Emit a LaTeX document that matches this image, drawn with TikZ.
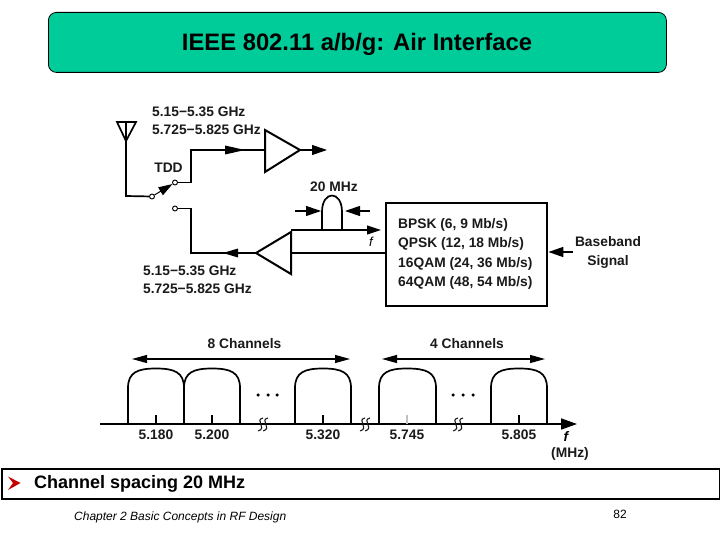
\documentclass[tikz,border=0pt]{standalone}
\usepackage{fontspec}
\setmainfont{Liberation Sans}
\usetikzlibrary{arrows.meta}
\definecolor{titlegreen}{HTML}{00CC99}
\definecolor{dk}{HTML}{1A1A1A}
\begin{document}
\begin{tikzpicture}[x=1pt,y=-1pt,
  wire/.style={draw=black,line width=1.7pt},
  thin wire/.style={draw=black,line width=1.1pt},
  arr/.style={-{Triangle[length=15pt,width=10pt]}},
  amp/.style={draw=black,line width=2pt,fill=white,line join=miter},
  lab/.style={font=\fontsize{13.8}{16}\selectfont\bfseries,text=dk,inner sep=0pt},
  term/.style={circle,draw=black,line width=0.9pt,fill=white,minimum size=5pt,inner sep=0pt},
  tick/.style={draw=black,line width=1.1pt},
  bump/.style={draw=black,line width=1.7pt},
  brk/.style={draw=dk,line width=1.1pt},
  dot/.style={circle,fill=black,minimum size=3.5pt,inner sep=0pt}]
\useasboundingbox (0,0) rectangle (720,540);
\fill[white] (0,0) rectangle (720,540);
% title
\node[draw=black,line width=0.8pt,fill=titlegreen,rounded corners=8pt,minimum width=618pt,minimum height=60pt,inner sep=0pt,anchor=north west] (title) at (48,12) {};
\node[font=\fontsize{23.8}{28}\selectfont\bfseries,inner sep=0pt] (titletext) at (357,44.5) {IEEE 802.11 a/b/g: Air Interface};
% antenna
\coordinate (antL) at (117,122);
\coordinate (antR) at (136,122);
\coordinate (antA) at (126,141);
\coordinate (antT) at (126,122);
\coordinate (antB) at (126,196);
\draw[wire,line join=miter] (antL) -- (antR) -- (antA) -- cycle;
\node[term] (swC) at (152,196.5) {};
\node[term] (swU) at (175,182.5) {};
\node[term] (swD) at (175,208.5) {};
\draw[wire] (antT) -- (antB) -- (swC);
\draw[draw=black,line width=1pt,-{Triangle[length=14pt,width=9pt]}] (swC) -- (swU);
% amplifiers
\node[inner sep=0pt,minimum size=0pt] (amp1in) at (265,150) {};
\node[inner sep=0pt,minimum size=0pt] (amp1out) at (300,150) {};
\node[inner sep=0pt,minimum size=0pt] (amp2out) at (256,253) {};
\node[inner sep=0pt,minimum size=0pt] (amp2in) at (291,253) {};
\coordinate (out1) at (327,150);
\draw[amp] (265,130) -- (300,150) -- (265,172) -- cycle;
\draw[amp] (256,253) -- (291,232) -- (291,274) -- cycle;
\draw[wire] (swU) -- (191,182.5) -- (191,150) -- (amp1in);
\fill[black] (245,150) -- (225,145.5) -- (225,154.5) -- cycle;
\draw[thin wire,arr] (amp1out) -- (out1);
\draw[wire] (swD) -- (191,208.5) -- (191,253) -- (amp2out);
\fill[black] (223,253) -- (238,248.5) -- (238,257.5) -- cycle;
% modulator box
\node[draw=black,line width=2.4pt,minimum width=161pt,minimum height=103pt,inner sep=0pt,anchor=north west] (box) at (385,202) {};
\node[lab,align=left,anchor=west,font=\fontsize{13.8}{19.2}\selectfont\bfseries] (mods) at (398,254) {BPSK (6, 9 Mb/s)\\QPSK (12, 18 Mb/s)\\16QAM (24, 36 Mb/s)\\64QAM (48, 54 Mb/s)};
\draw[wire] (box.west |- amp2in) -- (amp2in);
\node[lab,align=center,font=\fontsize{13.8}{19}\selectfont\bfseries] (bb) at (608,252) {Baseband\\Signal};
\coordinate (bbs) at (573,252);
\draw[wire,arr] (bbs) -- (box.east |- bbs);
% filter sketch
\coordinate (fs) at (291,230);
\coordinate (fe) at (381,230);
\draw[thin wire,-{Triangle[length=14pt,width=9pt]}] (fs) -- (fe);
\draw[bump] (322,230) -- (322,212) .. controls (322,190) and (342,190) .. (342,212) -- (342,230);
\coordinate (a1s) at (295,211);
\coordinate (a1e) at (321,211);
\coordinate (a2s) at (370,211);
\coordinate (a2e) at (345,211);
\draw[thin wire,arr] (a1s) -- (a1e);
\draw[thin wire,arr] (a2s) -- (a2e);
\node[lab] (mhz) at (334,187) {20 MHz};
\node[font=\fontsize{13}{15}\selectfont\itshape,inner sep=0pt] (fsmall) at (371,242) {f};
% freq labels
\node[lab,anchor=west,align=left,font=\fontsize{13.8}{18}\selectfont\bfseries] (fup) at (152,120.5) {5.15−5.35 GHz\\5.725−5.825 GHz};
\node[lab,anchor=west,align=left,font=\fontsize{13.8}{18}\selectfont\bfseries] (fdn) at (143,279.5) {5.15−5.35 GHz\\5.725−5.825 GHz};
\node[lab] (tdd) at (168.5,168) {TDD};
% spectrum
\coordinate (axS) at (100,424);
\coordinate (axE) at (577,424);
\draw[wire,-{Triangle[length=16pt,width=11pt]}] (axS) -- (axE);
\foreach \n/\a/\b/\c/\t/\col in {b1/128/184/156/5.180/black,b2/184/240/212/5.200/black,b3/295/351/323/5.320/black,b4/379/436/407/5.745/black!25,b5/491/547/519/5.805/black}{
  \draw[bump] (\a,424) -- (\a,388) .. controls (\a,372) and ({\a+10},368.5) .. (\c,368.5) .. controls ({\b-10},368.5) and (\b,372) .. (\b,388) -- (\b,424);
  \draw[tick,draw=\col] (\c,415) -- (\c,424);
  \node[lab] (\n) at (\c,435) {\t};
}
\foreach \n/\x in {d1/258,d2/268,d3/277,d4/453,d5/463,d6/473}{
  \node[dot] (\n) at (\x,395) {};
}
\foreach \x in {263,365,458}{
  \draw[brk] ({\x+0},418) .. controls ({\x-9},420) and ({\x+5},428) .. ({\x-5},431);
  \draw[brk] ({\x+5},418) .. controls ({\x-4},420) and ({\x+10},428) .. ({\x+0},431);
}
\coordinate (c8a) at (132,359);
\coordinate (c8b) at (350,359);
\coordinate (c4a) at (382,359);
\coordinate (c4b) at (545,359);
\draw[thin wire,{Triangle[length=15pt,width=8pt]}-{Triangle[length=15pt,width=8pt]}] (c8a) -- (c8b);
\draw[thin wire,{Triangle[length=15pt,width=8pt]}-{Triangle[length=15pt,width=8pt]}] (c4a) -- (c4b);
\node[lab] (l8) at (244.5,344) {8 Channels};
\node[lab] (l4) at (467,344) {4 Channels};
\node[font=\fontsize{13.8}{15}\selectfont\bfseries\itshape,inner sep=0pt] (faxis) at (566,436) {f};
\node[lab] (unit) at (570,454) {(MHz)};
% bottom bar
\node[draw=black,line width=1.8pt,fill=white,minimum width=718pt,minimum height=30pt,inner sep=0pt,anchor=north west] (bar) at (1,468) {};
\fill[red!75!black] (8,476.5) -- (20.5,483) -- (8,490) -- (13,483) -- cycle;
\node[font=\fontsize{18}{20}\selectfont\bfseries,inner sep=0pt,anchor=west] (spacing) at (34,483.5) {Channel spacing 20 MHz};
\node[font=\fontsize{12}{14}\selectfont\itshape,inner sep=0pt,anchor=west] (chap) at (74,517.5) {Chapter 2 Basic Concepts in RF Design};
\node[font=\fontsize{12}{14}\selectfont,inner sep=0pt] (page) at (620,514) {82};
\end{tikzpicture}
\end{document}
